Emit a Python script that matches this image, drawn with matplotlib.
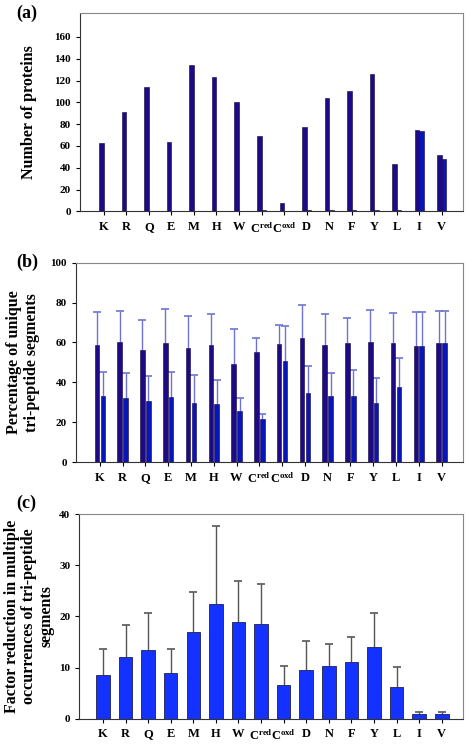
# Three-panel bar chart: proteins, unique tri-peptide segments, factor reduction
import numpy as np
import matplotlib
matplotlib.use("Agg")
import matplotlib.pyplot as plt

plt.rcParams['font.family'] = ['Liberation Serif', 'DejaVu Serif']
plt.rcParams['font.weight'] = 'bold'
plt.rcParams['mathtext.fontset'] = 'custom'
plt.rcParams['mathtext.rm'] = 'Liberation Serif:bold'
plt.rcParams['mathtext.it'] = 'Liberation Serif:bold'
plt.rcParams['mathtext.bf'] = 'Liberation Serif:bold'
plt.rcParams['mathtext.default'] = 'rm'

# Data
residues = ['K', 'R', 'Q', 'E', 'M', 'H', 'W', r'C$^{red}$', r'C$^{oxd}$',
            'D', 'N', 'F', 'Y', 'L', 'I', 'V']

# (a) number of proteins
proteins_1 = [63, 91, 114, 64, 134, 123, 100, 69, 8, 77, 104, 110, 126, 43, 75, 52]
proteins_2 = [0, 0, 0, 0, 0, 0, 0, 1, 0, 1, 1, 1, 1, 1, 74, 48]

# (b) percentage of unique tri-peptide segments (mean, upper error end)
unique_1 = [58.5, 60, 56, 59.5, 57, 58.5, 49, 55, 59, 62, 58.5, 59.5, 60, 59.5, 58, 59.5]
unique_1_top = [75, 75.5, 71, 76.5, 73, 74, 66.5, 62, 68.5, 79, 74, 72, 76, 74.5, 75, 75.5]
unique_2 = [33, 32, 30.5, 32.5, 29.5, 29, 25.5, 21.5, 50.5, 34.5, 33, 33, 29.5, 37.5, 58, 59.5]
unique_2_top = [45, 44.5, 43, 45, 43.5, 41, 32, 24, 68, 48, 44.5, 46, 42, 52, 75, 75.5]

# (c) factor reduction in multiple occurrences (mean, upper error end)
reduction = [8.6, 12.1, 13.5, 8.9, 16.9, 22.4, 19.0, 18.5, 6.6, 9.6, 10.4, 11.1, 14.0, 6.2, 1.0, 1.0]
reduction_top = [13.6, 18.4, 20.6, 13.6, 24.7, 37.6, 27.0, 26.3, 10.4, 15.2, 14.7, 15.9, 20.7, 10.2, 1.3, 1.3]

dark = '#1f0a85'
blue = '#0716b8'
bright = '#1432ff'

x = np.arange(len(residues))

fig = plt.figure(figsize=(4.66, 7.44), dpi=100)
ax_a = fig.add_axes([0.172, 0.716, 0.822, 0.2665])
ax_b = fig.add_axes([0.163, 0.379, 0.831, 0.268])
ax_c = fig.add_axes([0.170, 0.034, 0.824, 0.275])


def style(ax):
    ax.set_xlim(-1.05, 15.95)
    ax.set_xticks(x)
    ax.set_xticklabels(residues, fontsize=9, fontweight='bold')
    ax.tick_params(axis='x', length=3, pad=4, width=0.8)
    ax.tick_params(axis='y', length=3, labelsize=8, width=0.8)
    for lab in ax.get_yticklabels():
        lab.set_fontweight('bold')
    ax.spines['left'].set_color('#333333')
    ax.spines['bottom'].set_color('#333333')
    ax.spines['top'].set_color('#888888')
    ax.spines['right'].set_color('#888888')


def upper_err(ax, xs, vals, tops, color, cap):
    # only the upper half of the error bar, with a cap at the top
    ax.vlines(xs, vals, tops, color=color, linewidth=1, zorder=1)
    ax.plot(xs, tops, linestyle='none', marker='_', markersize=cap,
            markeredgewidth=1.2, color=color, zorder=1)


# (a)
w = 0.2
ax_a.bar(x - w / 2, proteins_1, width=w, color=dark, edgecolor='#100040', linewidth=0.4)
ax_a.bar(x + w / 2, proteins_2, width=w, color=blue, edgecolor='#100040', linewidth=0.4)
ax_a.set_ylim(0, 182)
ax_a.set_yticks(np.arange(0, 161, 20))
ax_a.set_ylabel('Number of proteins', fontsize=11.5, fontweight='bold')
ax_a.yaxis.set_label_coords(-0.112, 0.5)
style(ax_a)
fig.text(0.035, 0.982, '(a)', fontsize=13, fontweight='bold', va='center')

# (b)
upper_err(ax_b, x - 0.13, unique_1, unique_1_top, '#6c74d0', 6)
upper_err(ax_b, x + 0.13, unique_2, unique_2_top, '#6c74d0', 6)
ax_b.bar(x - 0.13, unique_1, width=0.2, color=dark, edgecolor='#100040', linewidth=0.4, zorder=2)
ax_b.bar(x + 0.13, unique_2, width=0.2, color=blue, edgecolor='#100040', linewidth=0.4, zorder=2)
ax_b.set_ylim(0, 100)
ax_b.set_yticks(np.arange(0, 101, 20))
ax_b.set_ylabel('Percentage of unique\ntri-peptide segments', fontsize=11.5,
                fontweight='bold', linespacing=1.1)
ax_b.yaxis.set_label_coords(-0.094, 0.5)
style(ax_b)
fig.text(0.035, 0.647, '(b)', fontsize=13, fontweight='bold', va='center')

# (c)
upper_err(ax_c, x, reduction, reduction_top, '#555555', 6)
ax_c.bar(x, reduction, width=0.6, color=bright, edgecolor='#202050', linewidth=0.6, zorder=2)
ax_c.set_ylim(0, 40)
ax_c.set_yticks(np.arange(0, 41, 10))
ax_c.set_ylabel('Factor reduction in multiple\noccurrences of tri-peptide\nsegments',
                fontsize=11.5, fontweight='bold', linespacing=1.1)
ax_c.yaxis.set_label_coords(-0.064, 0.5)
style(ax_c)
fig.text(0.035, 0.324, '(c)', fontsize=13, fontweight='bold', va='center')

fig.savefig('out.png', dpi=100)
